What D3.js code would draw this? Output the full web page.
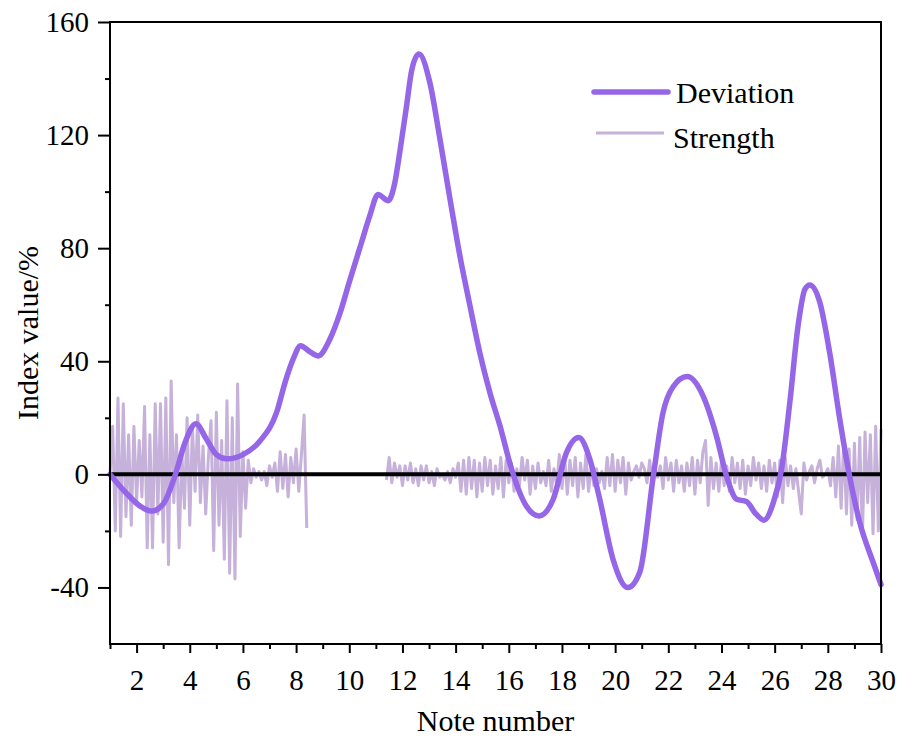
<!DOCTYPE html>
<meta charset="utf-8">
<style>
  body { margin: 0; background: #fff; }
  text { font-family: "Liberation Serif", "Times New Roman", serif; fill: #000; }
</style>
<svg id="mysvg" width="900" height="749"></svg>
<script src="https://cdn.jsdelivr.net/npm/d3@7/dist/d3.min.js"></script>
<script>

// Deviation curve (note number, index value %)
var devX = [1.0, 1.6, 2.1, 2.57, 3.0, 3.44, 3.82, 4.23, 4.63, 5.0, 5.39, 6.0, 6.64, 7.27, 7.6, 7.9, 8.17,
	8.5, 8.83, 9.27, 9.65, 10.0, 10.46, 10.77, 11.08, 11.46, 11.71, 11.9, 12.15, 12.35, 12.62,
	13.03, 13.41, 13.79, 14.16, 14.54, 14.91, 15.29, 15.67, 16.1, 16.66, 17.14, 17.67, 18.17,
	18.63, 19.05, 19.42, 19.92, 20.48, 20.93, 21.43, 21.8, 22.18, 22.71, 23.31, 23.81, 24.19,
	24.57, 24.94, 25.26, 25.6, 25.95, 26.26, 26.57, 26.88, 27.14, 27.32, 27.7, 28.07, 28.45,
	28.77, 29.2, 29.7, 30.0];
var devY = [0, -6.5, -11, -13, -10.5, -0.6, 11.2, 17.9, 12.4, 7, 5.5, 7, 11.8, 22, 33, 41, 45.5,
	43.5, 41.9, 47.8, 57, 68, 82, 91.4, 99, 96.8, 103, 114, 130, 143, 148.7,
	138.6, 118.6, 97.3, 77.3, 59.6, 43, 28.9, 17.1, 2, -11.2, -14.7, -8.8, 7.7,
	13, 5.3, -8.8, -30, -40, -34.5, -1, 21.8, 31, 34.6, 27.7, 13.6, -0.6,
	-8.8, -9.6, -13.6, -16.2, -10, 1.8, 25.4, 52.5, 65.5, 67, 60.8, 43, 19.5,
	1.8, -17, -31, -39];

// Strength, first block: notes 1.0 .. 8.4
var strength1Start = 1.0, strength1End = 8.4;
var strength1 = [0, 17, -20, 27, -22, 25, -15, 14, -18, 17, -10, 12, -8, 24, -26, 14, -26, 25, -14, 25,
	-24, 27, -32, 33, -10, 14, -26, 8, -12, 20, -18, 17, -6, 21, -10, 10, -14, 6, 19, -27,
	22, -18, 12, -30, 26, -35, 20, -37, 32, -22, 8, -12, 5, -3, 2, -1, 1, -2, 1, -4,
	3, -1, 4, -6, 8, -5, 7, -8, 6, -3, 9, -6, 7, 21, -19];

// Strength, second block: notes 11.4 .. 30
var strength2Start = 11.4, strength2End = 30.0;
var strength2 = [-2, 6, -3, 4, -1, 3, -4, 3, -2, 4, -3, 2, -4, 3, -2, 3, -3, 1, -4, 2,
	-1, 0, -2, 1, -3, 2, -1, 4, -6, 5, -7, 6, -5, 5, -8, 4, -6, 6, -4, 5,
	-7, 3, -5, 6, -8, 5, -3, 4, -6, 2, -4, 6, -2, 5, -7, 3, -5, 4, -3, 1,
	-4, 5, -6, 2, -4, 7, -5, 6, -7, 5, -4, 6, -8, 4, -5, 7, -6, 3, -4, 2,
	-3, 1, -5, 6, -4, 7, -6, 5, -3, 6, -7, 4, -2, 1, 3, -1, 4, 2, -3, 5,
	-4, 2, -1, 3, -5, 6, -2, 4, -6, 5, -3, 3, -6, 4, -4, 6, -7, 5, -3, 8,
	12, -11, 6, -5, 4, -6, 5, -4, 3, -6, 6, -3, 4, -5, 5, -7, 3, -4, 6, -2,
	4, -5, 3, -6, 5, -3, 4, -8, 5, -10, 6, -4, 3, -5, 2, -6, -14, 4, -2, 1,
	3, -3, 2, 5, -1, 0, 2, -4, 6, -8, 10, -12, 12, -14, 9, -18, 11, -16, 13, -22,
	15, -10, 14, -21, 17, -20, 16];

var xMajor = d3.range(2, 31, 2);
var xMinor = d3.range(1, 30, 2);
var yMajor = [-40, 0, 40, 80, 120, 160];
var yMinor = [-20, 20, 60, 100, 140];

var devColor = "#9566e8";
var strColor = "#c6b1da";

var svg = d3.select("#mysvg");
var mLeft = 110, mRight = 881, mTop = 22, mBottom = 644;

var x = d3.scaleLinear().domain([1, 30]).range([mLeft, mRight]);
var y = d3.scaleLinear().domain([-60, 160]).range([mBottom, mTop]);

function spread(vals, a, b) {
	var step = (b - a) / (vals.length - 1);
	return vals.map(function(v, i) { return [a + i * step, v]; });
}

var strLine = d3.line()
	.x(function(d) { return x(d[0]); })
	.y(function(d) { return y(d[1]); });

[spread(strength1, strength1Start, strength1End), spread(strength2, strength2Start, strength2End)]
	.forEach(function(seg) {
		svg.append("path")
			.datum(seg)
			.attr("fill", "none")
			.attr("stroke", strColor)
			.attr("stroke-width", 3)
			.attr("stroke-linejoin", "round")
			.attr("d", strLine);
	});

// zero line
svg.append("line")
	.attr("x1", x(1)).attr("x2", x(30))
	.attr("y1", y(0)).attr("y2", y(0))
	.attr("stroke", "#000")
	.attr("stroke-width", 4);

var devLine = d3.line()
	.curve(d3.curveMonotoneX)
	.x(function(d, i) { return x(d); })
	.y(function(d, i) { return y(devY[i]); });

svg.append("path")
	.datum(devX)
	.attr("fill", "none")
	.attr("stroke", devColor)
	.attr("stroke-width", 5.5)
	.attr("stroke-linecap", "round")
	.attr("stroke-linejoin", "round")
	.attr("d", devLine);

var fmt = function(d) { return String(d); };

// axes
var gx = svg.append("g").attr("transform", "translate(0," + mBottom + ")");
gx.call(d3.axisBottom(x).tickValues(xMinor).tickSize(5).tickFormat(""));
var gx2 = svg.append("g").attr("transform", "translate(0," + mBottom + ")");
gx2.call(d3.axisBottom(x).tickValues(xMajor).tickSize(9).tickPadding(16).tickFormat(fmt));
gx2.selectAll("text").attr("font-size", 29).attr("font-family", "Liberation Serif");

var gy = svg.append("g").attr("transform", "translate(" + mLeft + ",0)");
gy.call(d3.axisLeft(y).tickValues(yMinor).tickSize(5).tickFormat(""));
var gy2 = svg.append("g").attr("transform", "translate(" + mLeft + ",0)");
gy2.call(d3.axisLeft(y).tickValues(yMajor).tickSize(12).tickPadding(9).tickFormat(fmt));
gy2.selectAll("text").attr("font-size", 29).attr("font-family", "Liberation Serif");

svg.selectAll(".domain").remove();
svg.selectAll(".tick line").attr("stroke", "#000").attr("stroke-width", 2);

// frame
svg.append("rect")
	.attr("x", mLeft).attr("y", mTop)
	.attr("width", mRight - mLeft).attr("height", mBottom - mTop)
	.attr("fill", "none")
	.attr("stroke", "#000")
	.attr("stroke-width", 2);

// axis titles
svg.append("text")
	.attr("x", (mLeft + mRight) / 2)
	.attr("y", 731)
	.attr("text-anchor", "middle")
	.attr("font-size", 30)
	.text("Note number");

svg.append("text")
	.attr("transform", "translate(38," + ((mTop + mBottom) / 2) + ") rotate(-90)")
	.attr("text-anchor", "middle")
	.attr("font-size", 30)
	.text("Index value/%");

// legend
var legend = svg.append("g");
legend.append("line")
	.attr("x1", 594).attr("x2", 668).attr("y1", 92).attr("y2", 92)
	.attr("stroke", devColor).attr("stroke-width", 5.5).attr("stroke-linecap", "round");
legend.append("text").attr("x", 676).attr("y", 103).attr("font-size", 30).text("Deviation");
legend.append("line")
	.attr("x1", 596).attr("x2", 664).attr("y1", 133).attr("y2", 133)
	.attr("stroke", strColor).attr("stroke-width", 3);
legend.append("text").attr("x", 673).attr("y", 148).attr("font-size", 30).text("Strength");

</script>
